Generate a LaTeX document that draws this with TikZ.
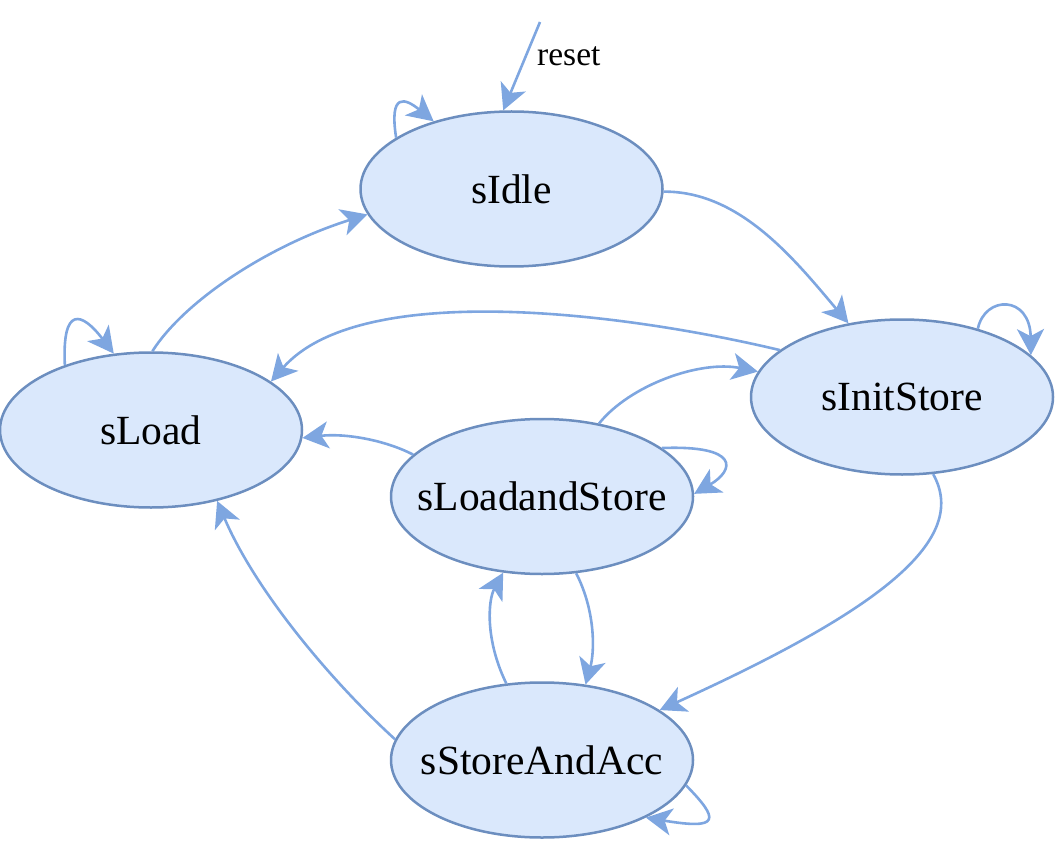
\documentclass[tikz,border=0pt]{standalone}
\usepackage{fontspec}
\setmainfont{Liberation Serif}
\usetikzlibrary{arrows.meta,shapes.geometric}
\definecolor{stfill}{HTML}{DAE8FC}
\definecolor{stdraw}{HTML}{6C8EBF}
\definecolor{edgecol}{HTML}{7EA6E0}
\newcommand\statetext[1]{\makebox[0pt]{#1}}
\tikzset{
  state/.style={ellipse, draw=stdraw, fill=stfill, line width=2.5pt,
    minimum width=302pt, minimum height=155pt, inner sep=0pt,
    font=\fontsize{41.5}{50}\selectfont},
  trans/.style={draw=edgecol, line width=2.6pt,
    -{Stealth[length=26pt, width=27pt, inset=7pt]}},
  lbl/.style={font=\fontsize{33.5}{40}\selectfont, inner sep=0pt}
}
\begin{document}
\begin{tikzpicture}[x=1pt, y=-1pt]
\useasboundingbox (0,0) rectangle (1056,858);
\node[state] (idle) at (511.5,189) {\statetext{sIdle}};
\node[state] (load) at (151,430) {\statetext{sLoad}};
\node[state] (init) at (902,397) {\statetext{sInitStore}};
\node[state] (las) at (542,496.5) {\statetext{sLoadandStore}};
\node[state] (saa) at (542,760) {\statetext{sStoreAndAcc}};

\coordinate (rst) at (540,22);
\draw[trans] (rst) -- (idle.96);
\node[lbl, anchor=west] (rlbl) at (537,56) {reset};

% self loops
\draw[trans] (idle.156) .. controls (389,92) and (405,98) .. (idle.139);
\draw[trans] (load.143.5) .. controls (62,305) and (82,312) .. (load.116);
\draw[trans] (init.42) .. controls (985,295) and (1030,295) .. (init.18);
\draw[trans] (las.22) .. controls (740,445) and (735,470) .. (las.1);
\draw[trans] (saa.350) .. controls (720,820) and (720,830) .. (saa.331);

% transitions
\draw[trans] (idle.359) .. controls (740,191) and (795,260) .. (init.126);
\draw[trans] (load.89) .. controls (185,300) and (270,245) .. (idle.190);
\draw[trans] (init.159) .. controls (620,312) and (360,280) .. (load.22);
\draw[trans] (las.52) .. controls (630,385) and (700,360) .. (init.170);
\draw[trans] (las.162) .. controls (385,440) and (345,433) .. (load.357);
\draw[trans] (las.294) .. controls (595,610) and (595,650) .. (saa.60);
\draw[trans] (saa.115) .. controls (485,640) and (488,600) .. (las.243);
\draw[trans] (saa.172) .. controls (330,680) and (255,590) .. (load.313);
\draw[trans] (init.292) .. controls (970,540) and (880,610) .. (saa.23);
\end{tikzpicture}
\end{document}
